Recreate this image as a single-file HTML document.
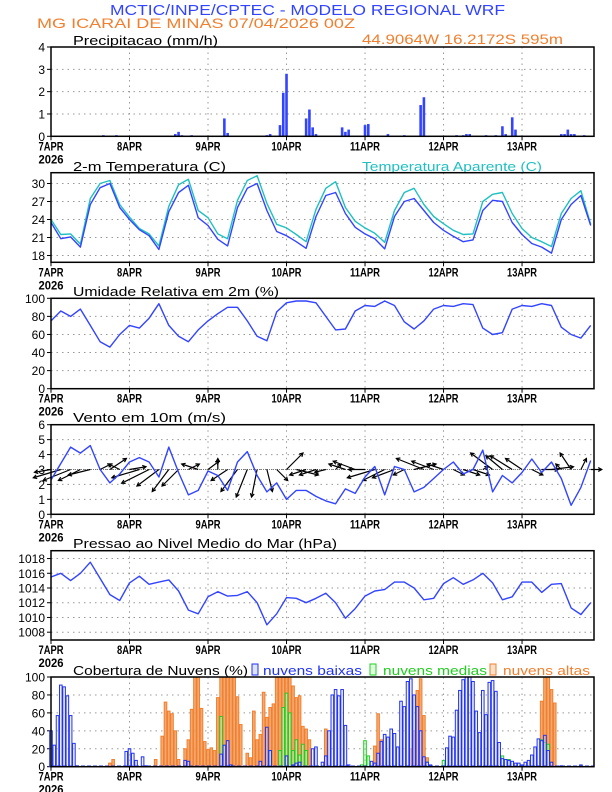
<!DOCTYPE html>
<html><head><meta charset="utf-8">
<style>
html,body{margin:0;padding:0;background:#fff;}
svg{display:block;font-family:"Liberation Sans",sans-serif;}
</style></head>
<body>
<svg id="chart" width="612" height="792" viewBox="0 0 612 792" xmlns="http://www.w3.org/2000/svg">
<text x="110" y="15" font-size="15" fill="#3344ff" textLength="395" lengthAdjust="spacingAndGlyphs">MCTIC/INPE/CPTEC - MODELO REGIONAL WRF</text>
<text x="37" y="28" font-size="14" fill="#f08030" textLength="318" lengthAdjust="spacingAndGlyphs">MG ICARAI DE MINAS    07/04/2026 00Z</text>
<text x="362" y="44" font-size="14" fill="#f08030" textLength="201" lengthAdjust="spacingAndGlyphs">44.9064W 16.2172S 595m</text>
<text x="73" y="45" font-size="13" fill="#000" textLength="145" lengthAdjust="spacingAndGlyphs">Precipitacao (mm/h)</text>
<text x="73" y="171" font-size="13" fill="#000" textLength="153" lengthAdjust="spacingAndGlyphs">2-m Temperatura (C)</text>
<text x="362" y="171" font-size="13" fill="#20c0c0" textLength="180" lengthAdjust="spacingAndGlyphs">Temperatura Aparente (C)</text>
<text x="73" y="296" font-size="13" fill="#000" textLength="206" lengthAdjust="spacingAndGlyphs">Umidade Relativa em 2m (%)</text>
<text x="73" y="422" font-size="13" fill="#000" textLength="153" lengthAdjust="spacingAndGlyphs">Vento em 10m (m/s)</text>
<text x="73" y="548" font-size="13" fill="#000" textLength="264" lengthAdjust="spacingAndGlyphs">Pressao ao Nivel Medio do Mar (hPa)</text>
<text x="73" y="675" font-size="13" fill="#000" textLength="175" lengthAdjust="spacingAndGlyphs">Cobertura de Nuvens (%)</text>
<rect x="252" y="664" width="6" height="11" fill="#dde2ff" stroke="#2233ee"/>
<text x="263" y="675" font-size="13" fill="#2233ee" textLength="99" lengthAdjust="spacingAndGlyphs">nuvens baixas</text>
<rect x="370" y="664" width="6" height="11" fill="#ddffdd" stroke="#22cc22"/>
<text x="383" y="675" font-size="13" fill="#22cc22" textLength="104" lengthAdjust="spacingAndGlyphs">nuvens medias</text>
<rect x="490" y="664" width="6" height="11" fill="#fde0c8" stroke="#f08030"/>
<text x="503" y="675" font-size="13" fill="#f08030" textLength="87" lengthAdjust="spacingAndGlyphs">nuvens altas</text>
</svg>
<script>
// ---- data (hours since 07APR 00Z) ----
const dayLabels = ["7APR","8APR","9APR","10APR","11APR","12APR","13APR"];
const hours3 = [0,3,6,9,12,15,18,21,24,27,30,33,36,39,42,45,48,51,54,57,60,63,66,69,72,75,78,81,84,87,90,93,96,99,102,105,108,111,114,117,120,123,126,129,132,135,138,141,144,147,150,153,156,159,162,165];
const tempValues = [23.5,20.8,21.1,19.4,26.5,29.3,30.0,26.0,24.0,22.3,21.3,19.0,25.3,28.5,29.7,24.3,23.0,20.7,19.6,26.0,29.2,30.0,25.5,22.0,21.3,20.3,19.2,24.5,28.0,28.5,25.0,22.7,21.6,20.8,19.1,24.5,27.0,27.5,25.5,23.5,22.2,21.2,20.3,20.6,25.5,27.2,27.0,23.5,21.5,20.0,19.4,18.4,24.0,26.5,28.0,23.0];
const apparentValues = [24.0,21.5,21.6,19.9,27.5,30.0,30.5,26.5,24.4,22.5,21.6,19.6,26.2,29.8,30.7,25.5,24.3,21.6,20.8,27.2,30.5,31.3,26.7,23.2,22.6,21.5,20.3,25.7,29.2,30.3,26.0,23.7,22.6,21.7,20.2,25.5,28.5,29.2,26.5,24.5,23.3,22.2,21.5,21.6,27.0,28.2,28.5,25.0,22.5,21.0,20.3,19.5,25.0,27.5,28.8,23.2];
const humidityValues = [75,86,80,88,70,52,46,60,70,67,78,94,70,58,52,65,75,83,90,90,75,58,53,85,95,97,97,95,80,65,66,86,92,91,97,92,74,66,75,88,92,91,94,93,67,60,62,88,92,91,94,92,68,60,56,70];
const windSpeed = [2.3,3.4,4.5,4.1,4.6,3.0,2.1,2.7,3.5,3.8,3.5,2.5,4.5,2.8,1.3,1.6,2.9,2.6,1.6,3.5,4.2,2.6,1.5,2.1,1.0,1.6,1.6,1.2,0.9,0.7,1.7,1.4,2.5,3.2,1.3,3.2,3.0,1.5,1.8,2.4,3.0,3.5,2.7,3.0,4.3,1.5,2.6,2.1,2.8,3.7,2.8,3.5,2.4,0.6,1.8,3.6];
const windU = [-3,-5,-5,-4,-4,2,3,-2,3,-5,-5,-4,-3,-3,2,-3,2,0,-3,-3,-2,-1,1,2,3,4,-3,-3,-2,1,-3,-4,-3,-5,-4,-4,-2,4,-5,-4,-3,2,3,3,1,-4,-3,-4,-3,2,3,4,-1,-2,1,2];
const windV = [-0.5,-1.5,-2,-2,-1,1,2,1,0.5,-1.5,-2.5,-3,-4,-3,1,1,1.5,2,-2,-4,-5,-5,-4,-2,3,-1,-1,-1,-0.5,1,1,1.5,0,-1.5,-2,-1.5,-1,1,2,1.5,1,-1,-1,-1,0.5,3,2.5,2.5,2,-1,0,0.5,1,3,2,0];
const pressureValues = [1015.5,1016,1015,1016,1017.5,1015.3,1013.1,1012.3,1014.7,1015.6,1014.5,1014.8,1015.1,1013.6,1011,1010.5,1012.8,1013.5,1012.9,1013,1013.5,1012,1009,1010.5,1012.7,1012.6,1012,1012.6,1013.3,1012,1009.9,1011.2,1012.9,1013.6,1013.8,1014.8,1014.8,1014,1012.4,1012.6,1014.6,1015.4,1014.5,1015.1,1016,1014.7,1012.4,1012.8,1014.8,1014.8,1013.4,1014.5,1014.6,1011.3,1010.4,1012];
const precipHours = [16,20,38,39,40,43,53,54,66,67,70,71,72,78,79,80,81,89,90,91,96,97,103,108,113,114,124,126,127,128,133,136,138,139,141,142,156,157,158,159,160,163];
const precipValues = [0.05,0.05,0.1,0.2,0.05,0.05,0.8,0.15,0.05,0.1,0.5,1.95,2.8,0.8,1.2,0.4,0.1,0.4,0.2,0.3,0.5,0.55,0.1,0.05,1.4,1.75,0.05,0.05,0.1,0.1,0.05,0.05,0.45,0.1,0.85,0.3,0.1,0.1,0.3,0.1,0.1,0.05];
const lowHours = [0,1,2,3,4,5,6,7,8,23,24,25,26,28,29,41,42,52,53,54,55,64,66,67,72,74,75,76,80,81,83,84,85,86,87,88,89,90,91,98,99,100,101,102,103,104,105,106,107,108,109,110,111,112,113,114,115,116,121,122,123,124,125,126,127,128,129,130,131,132,133,134,135,136,137,138,139,140,141,142,143,144,145,146,147,148,149,150,151,152,153,156,162];
const lowValues = [40,24,57,91,89,79,57,26,1,17,20,15,7,11,1,7,6,14,24,29,2,6,44,18,12,2,4,5,20,22,5,12,40,80,86,79,86,46,2,6,4,15,28,36,33,42,37,22,73,67,95,98,80,67,40,11,5,2,21,34,33,63,85,97,100,100,95,62,38,85,58,94,96,84,27,9,8,7,6,4,4,2,5,7,13,22,31,29,35,18,5,1,2];
const midHours = [52,67,70,71,72,73,74,75,76,77,78,95,96,97,115,120,138,140,150,151,152];
const midValues = [56,18,18,66,82,60,18,30,13,25,18,2,29,12,5,7,12,8,30,27,25];
const highHours = [18,19,32,34,35,36,37,38,39,41,42,43,44,45,46,47,48,49,50,51,52,53,54,55,56,57,58,60,61,62,63,64,65,66,67,68,69,70,71,72,73,74,75,76,77,78,79,84,99,100,101,110,111,112,113,114,115,150,151,152,153,154];
const highValues = [4,8,8,34,72,62,59,40,8,20,30,64,100,100,65,28,19,21,18,77,100,100,100,100,100,78,47,15,10,62,30,36,83,55,66,70,100,100,100,100,100,90,77,79,45,42,30,42,23,59,30,20,40,85,98,57,10,73,100,100,86,71];
const tickPrecip = [0,1,2,3,4];
const tickTemp = [18,21,24,27,30];
const tickHum = [0,20,40,60,80,100];
const tickWind = [0,1,2,3,4,5,6];
const tickPres = [1008,1010,1012,1014,1016,1018];
const tickCloud = [0,20,40,60,80,100];

const svg = document.getElementById('chart');
const NS = 'http://www.w3.org/2000/svg';
const X0 = 51, X1 = 594, HMAX = 166;
function xs(h){ return X0 + h*(X1-X0)/HMAX; }
function mk(tag, attrs, parent){
  const e = document.createElementNS(NS, tag);
  for (const k in attrs) e.setAttribute(k, attrs[k]);
  (parent||svg).appendChild(e);
  return e;
}
function scaleY(top, bot, lo, hi){ return v => bot - (v-lo)/(hi-lo)*(bot-top); }

const panels = [
  {name:'precip', top:47, bot:136.3, lo:0, hi:4, ticks:tickPrecip},
  {name:'temp', top:172.7, bot:262.3, lo:16.87, hi:31.8, ticks:tickTemp},
  {name:'humidity', top:298.3, bot:388.7, lo:0, hi:100, ticks:tickHum},
  {name:'wind', top:424.7, bot:514.3, lo:0, hi:6, ticks:tickWind},
  {name:'pressure', top:550.7, bot:640, lo:1006.94, hi:1018.0+ (559.3-550.7)/8.07, ticks:tickPres},
  {name:'cloud', top:677, bot:766.7, lo:0, hi:100, ticks:tickCloud}
];
panels.forEach(p => { p.y = scaleY(p.top, p.bot, p.lo, p.hi); });

panels.forEach(p => {
  const g = mk('g', {});
  
  
  p.g = g;
  p.ticks.forEach(t => {
    const yy = p.y(t);
    if (yy > p.top+1 && yy < p.bot-1) {
      const gl = mk('line', {x1:X0, x2:X1, y1:yy, y2:yy, stroke:'#999', 'stroke-width':1, 'stroke-dasharray':'1.5,4'}, g);
      
      
    }
    const tl = mk('line', {x1:X0-4, x2:X0, y1:yy, y2:yy, stroke:'#000', 'stroke-width':1}, g);
    
    
    const lab = mk('text', {x:X0-6, y:yy+4.5, 'font-size':12, 'text-anchor':'end', fill:'#000'}, g);
    
    
    lab.textContent = t;
  });
  for (let d = 1; d < dayLabels.length; d++) {
    const xx = xs(d*24);
    const vl = mk('line', {x1:xx, x2:xx, y1:p.top, y2:p.bot, stroke:'#999', 'stroke-width':1, 'stroke-dasharray':'1.5,4'}, g);
    
    
  }
  dayLabels.forEach((lbl, d) => {
    const xx = xs(d*24);
    const tk = mk('line', {x1:xx, x2:xx, y1:p.bot, y2:p.bot+4, stroke:'#000', 'stroke-width':1}, g);
    
    
    const w = lbl.length === 4 ? 25 : 30;
    const t = mk('text', {x:xx, y:p.bot+14, 'font-size':12, 'text-anchor':'middle', fill:'#000', textLength:w, lengthAdjust:'spacingAndGlyphs', 'font-weight':'bold'}, g);
    
    
    t.textContent = lbl;
  });
  const yr = mk('text', {x:X0, y:p.bot+27, 'font-size':12, 'text-anchor':'middle', fill:'#000', textLength:25, lengthAdjust:'spacingAndGlyphs', 'font-weight':'bold'}, g);
  
  
  yr.textContent = '2026';
});

function frame(p){
  const f = mk('rect', {x:X0, y:p.top, width:X1-X0, height:p.bot-p.top, fill:'none', stroke:'#000', 'stroke-width':1.5}, p.g);
  
  
}

(function(){
  const p = panels[0];
  precipHours.forEach((h, i) => {
    const y0 = p.y(0), y1 = p.y(precipValues[i]);
    const b = mk('rect', {x:xs(h)-1.3, y:y1, width:2.6, height:y0-y1, fill:'#3344ff'}, p.g);
    
    
  });
  frame(p);
})();

function linePath(p, vals, color, name, w){
  let d = '';
  hours3.forEach((h, i) => { d += (i ? 'L' : 'M') + xs(h).toFixed(1) + ',' + p.y(vals[i]).toFixed(1); });
  const l = mk('path', {d:d, fill:'none', stroke:color, 'stroke-width':w||1.4, 'stroke-linejoin':'round'}, p.g);
  
  
}
linePath(panels[1], apparentValues, '#20c0c0', 'apparent-temp-line');
linePath(panels[1], tempValues, '#3344ff', 'temp-line');
frame(panels[1]);
linePath(panels[2], humidityValues, '#3344ff', 'humidity-line');
frame(panels[2]);

(function(){
  const p = panels[3];
  const by = p.y(3);
  const base = mk('line', {x1:X0, x2:X1, y1:by, y2:by, stroke:'#777', 'stroke-width':1, 'stroke-dasharray':'1,1'}, p.g);
  
  
  hours3.forEach((h, i) => {
    const x0 = xs(h), ex = x0 + windU[i]*5.5, ey = by - windV[i]*5.5;
    const a = mk('line', {x1:x0, y1:by, x2:ex, y2:ey, stroke:'#000', 'stroke-width':1.2}, p.g);
    
    
    const ang = Math.atan2(ey-by, ex-x0), L = 4;
    const hd = mk('path', {d:'M'+(ex-L*Math.cos(ang-0.5))+','+(ey-L*Math.sin(ang-0.5))+'L'+ex+','+ey+'L'+(ex-L*Math.cos(ang+0.5))+','+(ey-L*Math.sin(ang+0.5)), fill:'none', stroke:'#000', 'stroke-width':1.2}, p.g);
    
    
  });
  linePath(p, windSpeed, '#3344ff', 'wind-speed-line');
  frame(p);
})();

linePath(panels[4], pressureValues, '#3344ff', 'pressure-line');
frame(panels[4]);

(function(){
  const p = panels[5];
  function bars(hrs, vals, fill, stroke, name, op){
    hrs.forEach((h, i) => {
      const y0 = p.y(0), y1 = p.y(vals[i]);
      const b = mk('rect', {x:xs(h)-1.3, y:y1, width:2.6, height:y0-y1, fill:fill, stroke:stroke, 'stroke-width':1, 'fill-opacity':op}, p.g);
      
      
    });
  }
  bars(highHours, highValues, '#f4a060', '#f08030', 'cloud-high-bar', 0.9);
  bars(midHours, midValues, '#ccffcc', '#22cc22', 'cloud-mid-bar', 0.5);
  bars(lowHours, lowValues, '#dde2ff', '#2233ee', 'cloud-low-bar', 0.5);
  const bl = mk('line', {x1:X0, x2:X1, y1:p.bot-0.5, y2:p.bot-0.5, stroke:'#2233ee', 'stroke-width':1.5, 'stroke-dasharray':'4,2'}, p.g);
  
  
  frame(p);
})();
</script>
</body></html>
